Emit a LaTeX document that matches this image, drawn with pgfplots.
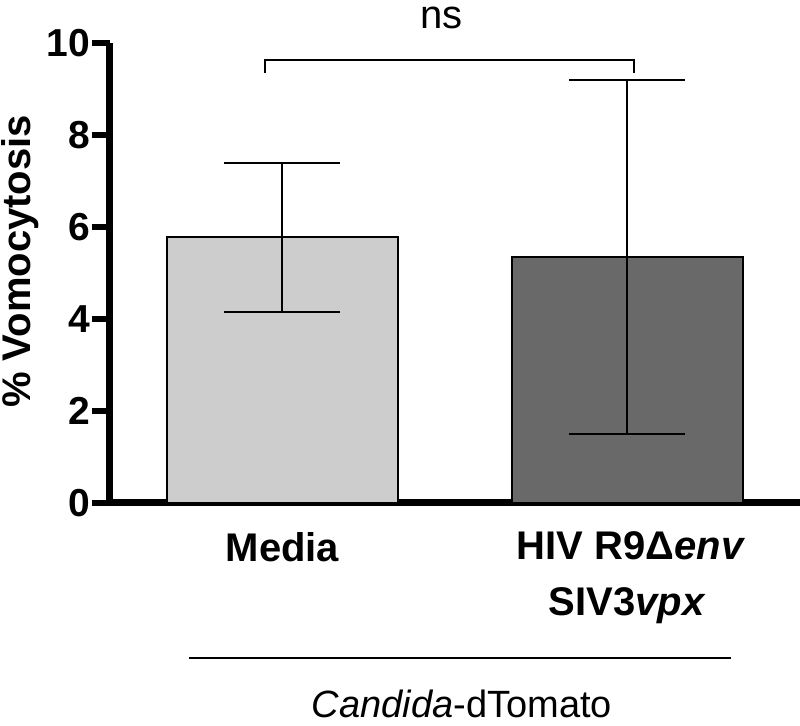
\documentclass[border=0pt]{standalone}
\usepackage{fontspec}
\setmainfont{Liberation Sans}
\usepackage{pgfplots}
\pgfplotsset{compat=1.18}
\usetikzlibrary{calc}
\definecolor{lightbar}{HTML}{CDCDCD}
\definecolor{darkbar}{HTML}{696969}
\begin{document}
\begin{tikzpicture}
\begin{axis}[
  scale only axis, width=345pt, height=230pt,
  xmin=-0.5, xmax=1.5, ymin=0, ymax=10,
  axis x line=bottom, axis y line=left,
  axis line style={-, line width=3.5pt},
  xtick=\empty,
  ytick={0,2,4,6,8,10},
  major tick length=9pt,
  tick align=outside,
  major tick style={line width=2.8pt, black},
  /pgf/number format/assume math mode=true,
  yticklabel style={font=\fontsize{19.5}{22}\selectfont\bfseries, xshift=2.5pt},
  ylabel={\% Vomocytosis},
  ylabel style={font=\fontsize{20}{24}\selectfont\bfseries, at={(axis description cs:-0.13,0.525)}, anchor=center},
  clip=false,
]
\addplot[ybar, bar width=0.67, bar shift=0pt, fill=lightbar, draw=black, line width=1pt,
  error bars/.cd, y dir=both, y explicit,
  error bar style={line width=1pt, black},
  error mark options={rotate=90, line width=1pt, mark size=29pt, black}]
  coordinates {(0,5.78) +- (0,1.62)};
\addplot[ybar, bar width=0.67, bar shift=0pt, fill=darkbar, draw=black, line width=1pt,
  error bars/.cd, y dir=both, y explicit,
  error bar style={line width=1pt, black},
  error mark options={rotate=90, line width=1pt, mark size=29pt, black}]
  coordinates {(1,5.35) +- (0,3.85)};
\pgfplotsinvokeforeach{0,2,4,6,8,10}{\draw[line width=2.8pt] ([xshift=-9pt]axis cs:-0.5,#1) -- (axis cs:-0.5,#1);}
\coordinate (O) at (axis cs:-0.5,0);
\node[anchor=base, font=\fontsize{20}{24}\selectfont\bfseries] at ([yshift=-29.5pt]axis cs:0,0) {Media};
\node[anchor=base, font=\fontsize{20}{24}\selectfont\bfseries] at ([yshift=-28.5pt]axis cs:1.01,0) {HIV R9Δ\textit{env}};
\node[anchor=base, font=\fontsize{20}{24}\selectfont\bfseries] at ([yshift=-56.5pt]axis cs:1.0,0) {SIV3\textit{vpx}};
\draw[line width=1pt] ([yshift=-77.5pt]axis cs:-0.27,0) -- ([yshift=-77.5pt]axis cs:1.30,0);
\node[anchor=base, font=\fontsize{19}{22}\selectfont] at ([yshift=-107.5pt]axis cs:0.52,0) {\textit{Candida}-dTomato};
\draw[line width=1pt] (axis cs:-0.051,9.35) |- (axis cs:1.019,9.63) -- (axis cs:1.019,9.35);
\node[anchor=base, font=\fontsize{20}{24}\selectfont] at ([yshift=7pt]axis cs:0.46,10) {ns};
\end{axis}
\pgfresetboundingbox
\path[use as bounding box] ($(O)+(-55pt,-111.5pt)$) rectangle ($(O)+(345pt,251.5pt)$);
\end{tikzpicture}
\end{document}
